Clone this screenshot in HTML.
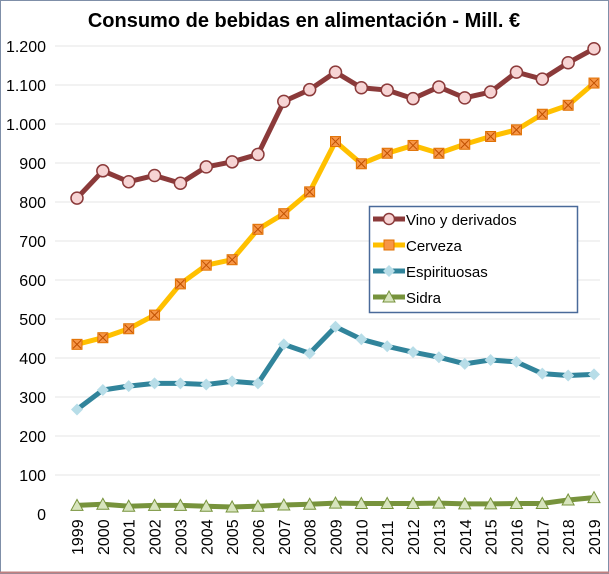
<!DOCTYPE html>
<html><head><meta charset="utf-8"><style>
html,body{margin:0;padding:0;background:#fff;}
svg{display:block;font-family:"Liberation Sans",sans-serif;}
</style></head><body>
<svg id="c" width="609" height="574" xmlns="http://www.w3.org/2000/svg">
<rect x="0.5" y="0.5" width="608" height="573" fill="#fff" stroke="#7f8fa8"/>
<line x1="0" y1="572.5" x2="609" y2="572.5" stroke="#c08080" stroke-width="2"/>
<text x="304" y="27" font-size="20" font-weight="bold" text-anchor="middle" fill="#000">Consumo de bebidas en alimentación - Mill. €</text>
<g id="grid"></g>
<g id="series"></g>
<rect x="369.5" y="206.5" width="208" height="106" fill="#fff" stroke="#4a6a9a" stroke-width="1.5"/>
<g font-size="15" fill="#000">
<line x1="373" y1="219" x2="405" y2="219" stroke="#8b3a3a" stroke-width="5"/>
<circle cx="389" cy="219" r="5.5" fill="#f7d4d4" stroke="#8b3a3a" stroke-width="1.5"/>
<text x="406" y="225">Vino y derivados</text>
<line x1="373" y1="245" x2="405" y2="245" stroke="#ffc000" stroke-width="5"/>
<rect x="384" y="240" width="10" height="10" fill="#f79646" stroke="#e07000"/>
<text x="406" y="251">Cerveza</text>
<line x1="373" y1="271" x2="405" y2="271" stroke="#31849b" stroke-width="5"/>
<path d="M389 265 L395 271 L389 277 L383 271Z" fill="#b7dde8"/>
<text x="406" y="277">Espirituosas</text>
<line x1="373" y1="297" x2="405" y2="297" stroke="#77933c" stroke-width="5"/>
<path d="M389 291 L395 302 L383 302Z" fill="#d7e4bd" stroke="#77933c"/>
<text x="406" y="303">Sidra</text>
</g>
</svg>
<script>
const ns="http://www.w3.org/2000/svg";
function el(p,t,a,txt){const e=document.createElementNS(ns,t);for(const k in a)e.setAttribute(k,a[k]);if(txt!==undefined)e.textContent=txt;p.appendChild(e);return e;}
const g=document.getElementById('grid'),s=document.getElementById('series');
const Y=v=>514-v*0.39, X=i=>77+i*25.85;
for(let v=0;v<=1200;v+=100){
 if(v>0)el(g,'line',{x1:55,x2:600,y1:Y(v),y2:Y(v),stroke:'#e6e6e6','stroke-width':1});
 el(g,'text',{x:46,y:Y(v)+6,'font-size':16,'text-anchor':'end',fill:'#000'},v>=1000?(v/1000|0)+'.'+String(v%1000).padStart(3,'0'):String(v));
}
for(let i=0;i<21;i++){
 el(g,'text',{transform:`translate(${X(i)+6},${555}) rotate(-90)`,'font-size':16,fill:'#000'},String(1999+i));
}
const D={
vino:[810,880,852,868,848,890,903,922,1058,1088,1133,1093,1087,1065,1095,1067,1082,1133,1115,1157,1193],
cer:[435,452,475,510,590,638,652,730,770,826,955,898,925,945,925,948,968,985,1025,1048,1105],
esp:[268,318,328,335,335,332,340,335,435,412,480,448,430,415,402,385,395,390,360,355,358],
sid:[22,25,20,22,22,20,18,20,23,25,28,27,27,27,28,26,26,27,27,36,42]};
function line(d,c){el(s,'polyline',{points:d.map((v,i)=>X(i)+','+Y(v)).join(' '),fill:'none',stroke:c,'stroke-width':5,'stroke-linejoin':'round'});}
line(D.sid,'#77933c');line(D.esp,'#31849b');line(D.cer,'#ffc000');line(D.vino,'#8b3a3a');
D.sid.forEach((v,i)=>{const x=X(i),y=Y(v);el(s,'path',{d:`M${x} ${y-6}L${x+6} ${y+5}L${x-6} ${y+5}Z`,fill:'#d7e4bd',stroke:'#77933c'});});
D.esp.forEach((v,i)=>{const x=X(i),y=Y(v);el(s,'path',{d:`M${x} ${y-6}L${x+6} ${y}L${x} ${y+6}L${x-6} ${y}Z`,fill:'#b7dde8'});});
D.cer.forEach((v,i)=>{const x=X(i),y=Y(v);el(s,'rect',{x:x-5,y:y-5,width:10,height:10,fill:'#f79646',stroke:'#e07000'});el(s,'path',{d:`M${x-4} ${y-4}L${x+4} ${y+4}M${x+4} ${y-4}L${x-4} ${y+4}`,stroke:'#c05000','stroke-width':1});});
D.vino.forEach((v,i)=>{el(s,'circle',{cx:X(i),cy:Y(v),r:6,fill:'#f7d4d4',stroke:'#8b3a3a','stroke-width':1.5});});
</script>
</body></html>
